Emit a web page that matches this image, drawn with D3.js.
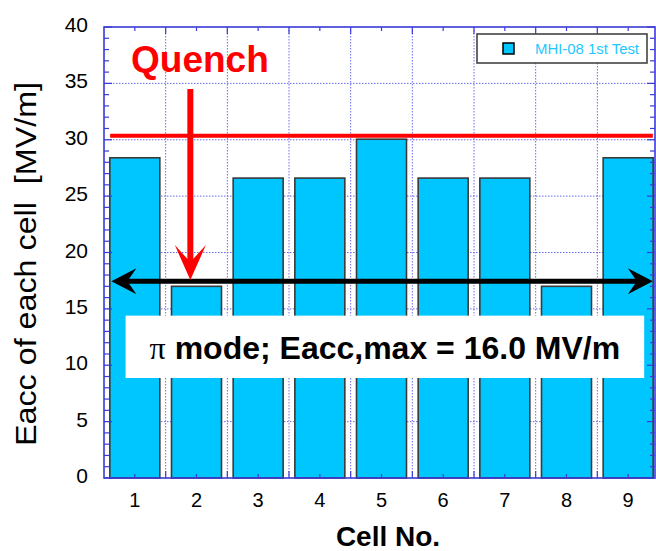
<!DOCTYPE html>
<html lang="en">
<head>
<meta charset="utf-8">
<style>
  body { margin: 0; background: #fff; }
  svg { display: block; font-family: Arial, "Liberation Sans", sans-serif; }
</style>
</head>
<body>
<svg id="chart" width="656" height="551"></svg>
<script src="https://cdn.jsdelivr.net/npm/d3@7"></script>
<script>
// data
var cells = [1, 2, 3, 4, 5, 6, 7, 8, 9];
var eacc = [28.4, 17.0, 26.6, 26.6, 30.05, 26.6, 26.6, 17.0, 28.4];
var yTicks = [0, 5, 10, 15, 20, 25, 30, 35, 40];
var seriesName = "MHI-08 1st Test";
var quenchLevel = 30.35;        // red horizontal line
var quenchCell = 1.9;           // red arrow position
var quenchArrow = [34.5, 17.55]; // from / to
var flatLevel = 17.45;          // black double arrow
var flatSpan = [0.62, 9.4];
var boxX = [0.85, 9.26], boxY = [14.4, 8.87];
var boxText = "mode; Eacc,max = 16.0 MV/m";

var svg = d3.select("#chart");
var L = 104, T = 27, B = 478, R = 655;
var x = d3.scaleLinear().domain([0.5, 9.5]).range([L, 659]);
var y = d3.scaleLinear().domain([0, 40]).range([B, T]);
var axisColor = "#3a3ad8";
var barColor = "#00c6ff";

// grid
var g = svg.append("g");
g.selectAll(".hg").data(yTicks.slice(1, -1)).enter().append("line")
  .attr("x1", L).attr("x2", R).attr("y1", d => y(d)).attr("y2", d => y(d))
  .attr("stroke", "#6a6af0").attr("stroke-width", 1).attr("stroke-dasharray", "1.5,1.5");
g.selectAll(".vg").data(cells.slice(0, -1).map(d => d + 0.5)).enter().append("line")
  .attr("x1", d => x(d)).attr("x2", d => x(d)).attr("y1", T).attr("y2", B)
  .attr("stroke", "#6a6af0").attr("stroke-width", 1).attr("stroke-dasharray", "1.5,1.5");

// bars
var bw = 50;
svg.selectAll(".bar").data(eacc).enter().append("rect")
  .attr("x", (d, i) => x(cells[i]) - bw / 2)
  .attr("width", bw)
  .attr("y", d => y(d))
  .attr("height", d => y(0) - y(d))
  .attr("fill", barColor).attr("stroke", "#3a3a3a").attr("stroke-width", 1.6);

// ticks
var minor = d3.range(0, 41, 1);
var tk = svg.append("g").attr("stroke", axisColor).attr("stroke-width", 1.2);
minor.forEach(function (v) {
  var len = v % 5 === 0 ? 8 : 5;
  tk.append("line").attr("x1", L).attr("x2", L + len).attr("y1", y(v)).attr("y2", y(v));
  tk.append("line").attr("x1", R).attr("x2", R - len).attr("y1", y(v)).attr("y2", y(v));
});
d3.range(1, 9.6, 0.5).forEach(function (v) {
  var len = v % 1 === 0 ? 4 : 7;
  if (x(v) > R) return;
  tk.append("line").attr("x1", x(v)).attr("x2", x(v)).attr("y1", T).attr("y2", T + len);
  tk.append("line").attr("x1", x(v)).attr("x2", x(v)).attr("y1", B).attr("y2", B - len);
});
// frame
svg.append("rect").attr("x", L).attr("y", T).attr("width", R - L).attr("height", B - T)
  .attr("fill", "none").attr("stroke", axisColor).attr("stroke-width", 1.6);

// tick labels
svg.selectAll(".yl").data(yTicks).enter().append("text")
  .attr("x", 88).attr("y", d => y(d) + 5)
  .attr("text-anchor", "end").attr("font-size", 21).attr("fill", "#000")
  .text(d => d);
svg.selectAll(".xl").data(cells).enter().append("text")
  .attr("x", d => x(d)).attr("y", 507)
  .attr("text-anchor", "middle").attr("font-size", 20).attr("fill", "#000")
  .text(d => d);

// axis titles
svg.append("text").attr("x", 388).attr("y", 546).attr("text-anchor", "middle")
  .attr("font-size", 28).attr("font-weight", "bold").text("Cell No.");
svg.append("text").attr("transform", "translate(36,264) rotate(-90)")
  .attr("text-anchor", "middle").attr("font-size", 30).style("white-space", "pre")
  .attr("textLength", 364).attr("lengthAdjust", "spacingAndGlyphs")
  .text("Eacc of each cell  [MV/m]");

// legend
svg.append("rect").attr("x", 477).attr("y", 34).attr("width", 170).attr("height", 29)
  .attr("fill", "#fff").attr("stroke", "#444").attr("stroke-width", 1.6);
svg.append("rect").attr("x", 503).attr("y", 43).attr("width", 11).attr("height", 11)
  .attr("fill", barColor).attr("stroke", "#000").attr("stroke-width", 1.5);
svg.append("text").attr("x", 535).attr("y", 53.5).attr("font-size", 15)
  .attr("fill", "#1ec8ff").attr("textLength", 104).attr("lengthAdjust", "spacingAndGlyphs")
  .text(seriesName);

// quench line
svg.append("line").attr("x1", x(0.6)).attr("x2", x(9.4))
  .attr("y1", y(quenchLevel)).attr("y2", y(quenchLevel))
  .attr("stroke", "#ff0000").attr("stroke-width", 4);

// black double arrow
var ay = y(flatLevel), ax1 = x(flatSpan[0]), ax2 = x(flatSpan[1]);
svg.append("line").attr("x1", ax1 + 15).attr("x2", ax2 - 15).attr("y1", ay).attr("y2", ay)
  .attr("stroke", "#000").attr("stroke-width", 5);
svg.append("path").attr("fill", "#000")
  .attr("d", "M" + ax1 + "," + ay + " L" + (ax1 + 25) + "," + (ay - 13) + " L" + (ax1 + 16) + "," + ay +
    " L" + (ax1 + 25) + "," + (ay + 13) + "Z");
svg.append("path").attr("fill", "#000")
  .attr("d", "M" + ax2 + "," + ay + " L" + (ax2 - 25) + "," + (ay - 13) + " L" + (ax2 - 16) + "," + ay +
    " L" + (ax2 - 25) + "," + (ay + 13) + "Z");

// red arrow
var qx = x(quenchCell), qy1 = y(quenchArrow[0]), qy2 = y(quenchArrow[1]);
svg.append("line").attr("x1", qx).attr("x2", qx).attr("y1", qy1).attr("y2", qy2 - 14)
  .attr("stroke", "#ff0000").attr("stroke-width", 6);
svg.append("path").attr("fill", "#ff0000")
  .attr("d", "M" + qx + "," + qy2 + " L" + (qx - 15.5) + "," + (qy2 - 35) + " L" + qx + "," + (qy2 - 18) +
    " L" + (qx + 15.5) + "," + (qy2 - 35) + "Z");

svg.append("text").attr("x", 131).attr("y", 71.5).attr("font-size", 37)
  .attr("font-weight", "bold").attr("fill", "#ff0000").text("Quench");

// text box
svg.append("rect").attr("x", x(boxX[0])).attr("y", y(boxY[0]))
  .attr("width", x(boxX[1]) - x(boxX[0])).attr("height", y(boxY[1]) - y(boxY[0]))
  .attr("fill", "#fff");
var bt = svg.append("text").attr("x", (x(boxX[0]) + x(boxX[1])) / 2).attr("y", 359)
  .attr("text-anchor", "middle").attr("font-size", 32).attr("font-weight", "bold").attr("fill", "#000");
bt.append("tspan").attr("font-weight", "normal").attr("font-family", "'Liberation Serif', serif").text("π");
bt.append("tspan").text(" " + boxText);
</script>
</body>
</html>
